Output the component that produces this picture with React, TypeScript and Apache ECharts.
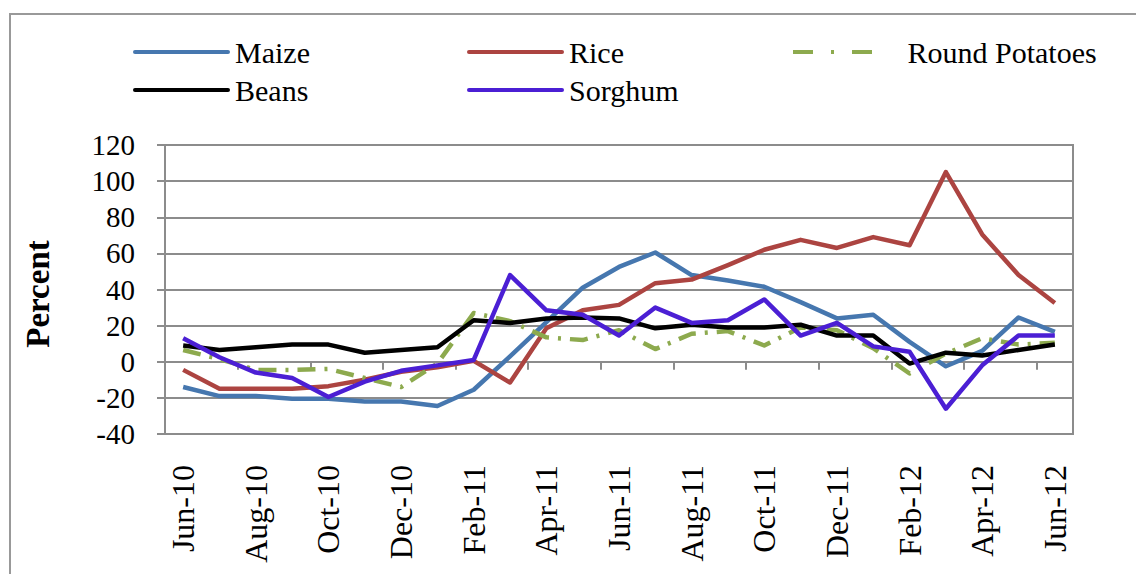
import React, { useEffect, useRef } from "react";
import * as echarts from "echarts";

const months = [
  "Jun-10", "Jul-10", "Aug-10", "Sep-10", "Oct-10", "Nov-10", "Dec-10", "Jan-11",
  "Feb-11", "Mar-11", "Apr-11", "May-11", "Jun-11", "Jul-11", "Aug-11", "Sep-11",
  "Oct-11", "Nov-11", "Dec-11", "Jan-12", "Feb-12", "Mar-12", "Apr-12", "May-12", "Jun-12",
];

const maize = [-14, -19, -19, -20.5, -20.5, -22, -22, -24.5, -15.5, 3, 22, 41, 52.5, 60.5, 48, 45, 41.5, 33, 24, 26, 11, -2.5, 6, 24.5, 16.5];
const rice = [-4.5, -15, -15, -15, -13.5, -10, -5.5, -3, 0.5, -11.5, 18.5, 28.5, 31.5, 43.5, 45.5, 53.5, 62, 67.5, 63, 69, 64.5, 105, 70.5, 48, 32.5];
const potatoes = [6.5, 1.5, -4.5, -4.5, -4, -9, -14, -1, 27, 22.5, 13.5, 12, 17.5, 7, 15.5, 17, 9, 19, 17.5, 7.5, -6.5, 4.5, 13, 9.5, 10.5];
const beans = [9, 6.5, 8, 9.5, 9.5, 5, 6.5, 8, 23, 21.5, 24, 24.5, 24, 18.5, 20.5, 19, 19, 20.5, 14.5, 14.5, -1, 5, 3.5, 6.5, 9.5];
const sorghum = [13, 2.5, -6, -9, -19.5, -11, -5, -2, 1, 48, 28.5, 26, 14.5, 30, 21.5, 23, 34.5, 14.5, 21.5, 8.5, 5.5, -26, -2, 14.5, 14.5];

const yTicks = { min: -40, max: 120, interval: 20 };

const FONT = "Liberation Serif";
const GRAY = "#8c8c8c";

const SOLID_ICON = "path://M2,0H95A2,2 0 0 1 95,4H2A2,2 0 0 1 2,0Z";
const DASHDOT_ICON = "path://M0,0H20V4H0Z M38,0H41V4H38Z M59,0H79V4H59Z";

export default function App() {
  const ref = useRef<HTMLDivElement>(null);
  useEffect(() => {
    if (!ref.current) return;
    const chart = echarts.init(ref.current, null, { renderer: "svg" });
    const legendCommon = {
      padding: 0,
      itemWidth: 97,
      itemHeight: 4,
      icon: SOLID_ICON,
      textStyle: { fontSize: 30, color: "#000", fontFamily: FONT },
    };
    const lineSeries = (name: string, data: number[], color: string, type: any = "solid") => ({
      name,
      type: "line",
      data,
      xAxisIndex: 0,
      symbol: "none",
      showSymbol: false,
      lineStyle: { color, width: 4.5, type, join: "round" },
      itemStyle: { color },
    });
    chart.setOption({
      animation: false,
      textStyle: { fontFamily: FONT, color: "#000" },
      graphic: [
        {
          type: "rect",
          silent: true,
          shape: { x: 10, y: 14, width: 1140, height: 600 },
          style: { fill: "none", stroke: "#999", lineWidth: 2 },
        },
        {
          type: "text",
          x: 38,
          y: 294,
          rotation: Math.PI / 2,
          style: {
            text: "Percent",
            fontSize: 33,
            fontWeight: "bold",
            fontFamily: FONT,
            fill: "#000",
            align: "center",
            verticalAlign: "middle",
          },
        },
      ],
      legend: [
        { ...legendCommon, data: ["Maize"], left: 133, top: 37 },
        { ...legendCommon, data: ["Beans"], left: 133, top: 75 },
        { ...legendCommon, data: ["Rice"], left: 467, top: 37 },
        { ...legendCommon, data: ["Sorghum"], left: 467, top: 75 },
        {
          ...legendCommon,
          data: ["Round Potatoes"],
          left: 793,
          top: 37,
          itemWidth: 80,
          icon: DASHDOT_ICON,
          textStyle: { ...legendCommon.textStyle, padding: [0, 0, 0, 30] },
        },
      ],
      grid: {
        left: 165,
        right: 63,
        top: 145,
        bottom: 140,
        show: true,
        borderColor: GRAY,
        borderWidth: 2,
      },
      xAxis: [
        {
          type: "category",
          data: months,
          boundaryGap: true,
          position: "bottom",
          axisLine: { show: false, onZero: false },
          axisTick: { show: false },
          splitLine: { show: false },
          axisLabel: {
            interval: 1,
            rotate: 90,
            margin: 31,
            fontSize: 32,
            color: "#000",
            fontFamily: FONT,
          },
        },
        {
          type: "category",
          data: months,
          boundaryGap: true,
          position: "bottom",
          axisLine: { show: true, onZero: true, lineStyle: { color: GRAY, width: 2 } },
          axisTick: { show: true, interval: 1, length: 8, lineStyle: { color: GRAY, width: 2 } },
          axisLabel: { show: false },
          splitLine: { show: false },
        },
      ],
      yAxis: {
        type: "value",
        min: yTicks.min,
        max: yTicks.max,
        interval: yTicks.interval,
        axisLine: { show: true, lineStyle: { color: GRAY, width: 2 } },
        axisTick: { show: true, length: 8, lineStyle: { color: GRAY, width: 2 } },
        axisLabel: { fontSize: 29, margin: 30, color: "#000", fontFamily: FONT },
        splitLine: { show: true, lineStyle: { color: GRAY, width: 2 } },
      },
      series: [
        lineSeries("Maize", maize, "#4677AF"),
        lineSeries("Rice", rice, "#AC4441"),
        lineSeries("Round Potatoes", potatoes, "#8DAA4E", [18, 9, 3, 9]),
        lineSeries("Beans", beans, "#000000"),
        lineSeries("Sorghum", sorghum, "#4B1FD4"),
      ],
    });
    return () => chart.dispose();
  }, []);
  return (
    <div
      ref={ref}
      style={{ position: "absolute", left: 0, top: 0, width: 1136, height: 574, background: "#fff" }}
    />
  );
}
